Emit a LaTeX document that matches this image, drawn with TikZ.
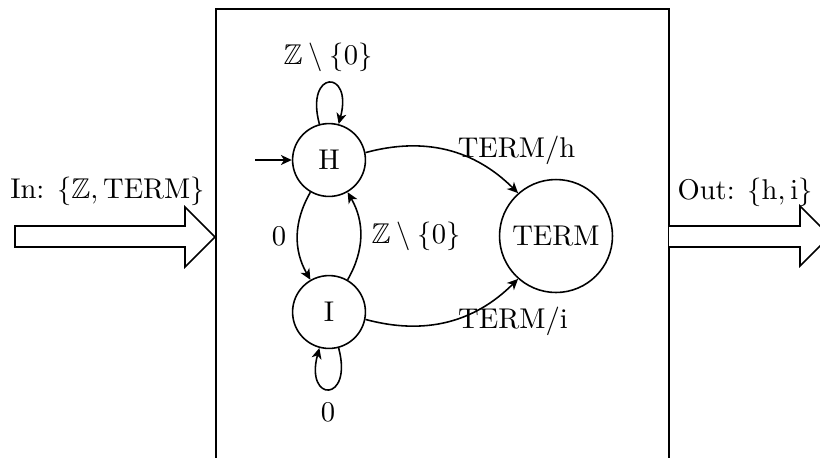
\documentclass[tikz,border=0pt]{standalone}
\usepackage{amssymb}
\usetikzlibrary{arrows.meta}
\begin{document}
\begin{tikzpicture}[x=0.35pt,y=0.35pt,line width=0.55pt,
  >={Stealth[length=3.8pt,width=3.5pt,inset=1.1pt]},
  st/.style={circle,draw,minimum size=25.5pt,inner sep=0pt},
  bigst/.style={circle,draw,inner sep=3.33pt},
  lbl/.style={inner sep=0pt},
  fat/.style={draw,fill=white,line join=miter}]
\useasboundingbox (0,0) rectangle (820,457);
\clip (0,0) rectangle (820,457);
% enclosing box
\draw (216,448) rectangle (669,-60);
% input and output arrows
\draw[fat] (15,231) -- (185,231) -- (185,250) -- (215,220) -- (185,190) -- (185,210) -- (15,210) -- cycle;
\draw[fat] (669,231) -- (800,231) -- (800,251) -- (830,221) -- (800,191) -- (800,210) -- (669,210);
\node[lbl] (inl) at (107.5,266) {In: $\{\mathbb{Z},\mathrm{TERM}\}$};
\node[lbl] (outl) at (745,265) {Out: $\{\mathrm{h},\mathrm{i}\}$};
% states
\node[st] (H) at (329,297) {H};
\node[st] (I) at (329,145) {I};
\node[bigst] (T) at (556,221) {TERM};
\coordinate (start) at (255,297);
% transitions
\draw[->] (start) -- (H);
\draw[->] (H) to[loop above,min distance=7mm] (H);
\draw[->] (I) to[loop below,min distance=7mm] (I);
\draw[->] (H) to[bend left=30] (T);
\draw[->] (I) to[bend right=30] (T);
\draw[->] (H) to[bend right=30] (I);
\draw[->] (I) to[bend right=30] (H);
% labels
\node[lbl] (lH) at (328,400) {$\mathbb{Z}\setminus\{0\}$};
\node[lbl,anchor=base] (lHT) at (516.5,300) {TERM/h};
\node[lbl,anchor=base] (lIT) at (513,129) {TERM/i};
\node[lbl] (lHI) at (279,221) {0};
\node[lbl] (lIH) at (416,221) {$\mathbb{Z}\setminus\{0\}$};
\node[lbl] (lI) at (328,45) {0};
\end{tikzpicture}
\end{document}
